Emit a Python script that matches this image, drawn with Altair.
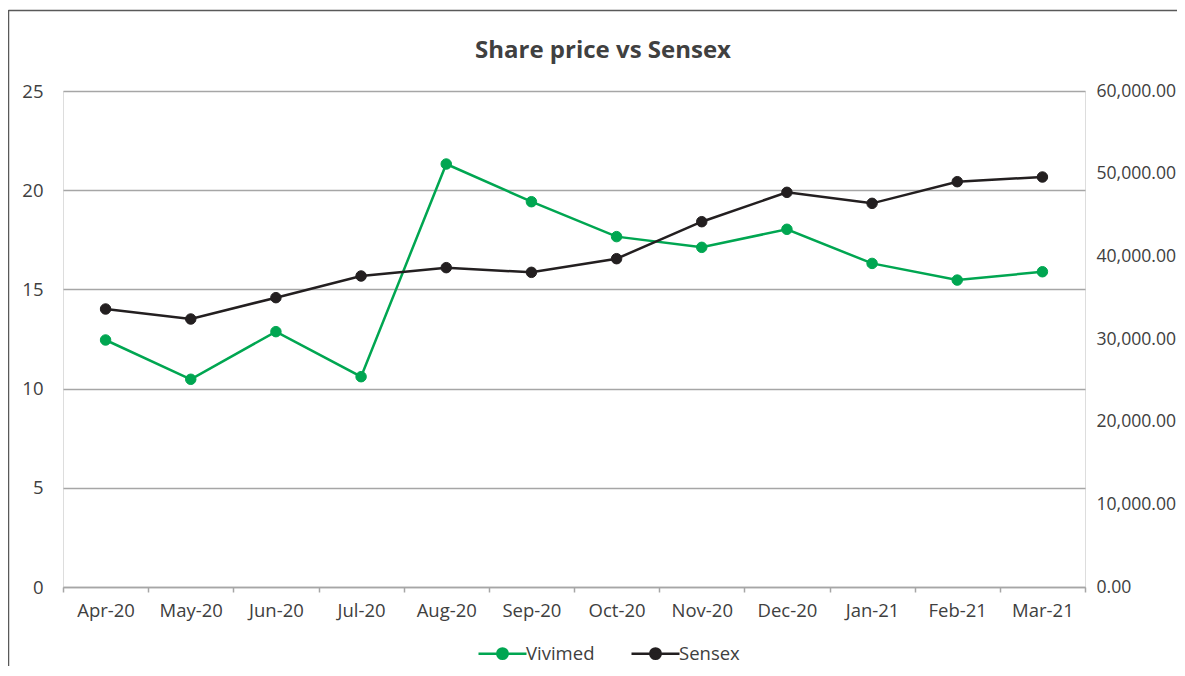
import altair as alt
import pandas as pd

# ---- data ----
months = ["Apr-20", "May-20", "Jun-20", "Jul-20", "Aug-20", "Sep-20",
          "Oct-20", "Nov-20", "Dec-20", "Jan-21", "Feb-21", "Mar-21"]
vivimed = [12.45, 10.47, 12.87, 10.60, 21.32, 19.42, 17.66, 17.12, 18.03, 16.31, 15.47, 15.89]
sensex = [33628, 32418, 35000, 37620, 38630, 38065, 39715, 44190, 47742, 46410, 49030, 49595]
series_names = ["Vivimed", "Sensex"]
series_colors = ["#00A651", "#231F20"]
left_ticks = [0, 5, 10, 15, 20, 25]
right_ticks = [0, 10000, 20000, 30000, 40000, 50000, 60000]
title_text = "Share price vs Sensex"

df = pd.DataFrame({
    "month": months * 2,
    "series": [series_names[0]] * len(months) + [series_names[1]] * len(months),
    "value": vivimed + sensex,
})

FONT = "Open Sans"
TEXT = "#404040"
GRID = "#A6A6A6"
FS = 18.5

# legend glyph: a 48px line with a dot in its middle (unit = 10px at symbolSize 400)
legend_path = "M-1,0L3.8,0M0.88,0A0.52,0.52,0,1,0,1.92,0A0.52,0.52,0,1,0,0.88,0Z"

x_enc = alt.X(
    "month:N", sort=months,
    scale=alt.Scale(type="band", paddingInner=0, paddingOuter=0),
    axis=alt.Axis(title=None, labelAngle=0, tickBand="extent", ticks=True, tickSize=5,
                  tickColor=GRID, tickWidth=1.5, domainColor=GRID, domainWidth=1.5,
                  labelPadding=9, labelFontSize=FS, labelColor=TEXT, labelFont=FONT, grid=False),
)

y_left = alt.Y(
    "value:Q", scale=alt.Scale(domain=[0, 25], nice=False),
    axis=alt.Axis(title=None, orient="left", values=left_ticks, grid=True, gridColor=GRID,
                  gridWidth=1.3, ticks=False, domain=False, labelPadding=20,
                  labelFontSize=FS, labelColor=TEXT, labelFont=FONT),
)
y_right = alt.Y(
    "value:Q", scale=alt.Scale(domain=[0, 60000], nice=False),
    axis=alt.Axis(title=None, orient="right", values=right_ticks, format=",.2f", grid=False,
                  ticks=False, domain=False, labelPadding=11, labelAlign="left",
                  labelFontSize=17.6, labelColor=TEXT, labelFont=FONT),
)

color_scale = alt.Scale(domain=series_names, range=series_colors)
legend = alt.Legend(title=None, orient="none", legendX=414, legendY=551, direction="horizontal",
                    symbolType=legend_path, symbolSize=400, symbolStrokeWidth=2.5,
                    labelOffset=26, columnPadding=31, padding=0,
                    labelFontSize=FS, labelColor=TEXT, labelFont=FONT)

base = alt.Chart(df)


def series_layer(name, color, y_enc):
    sub = base.transform_filter(alt.datum.series == name)
    line = sub.mark_line(color=color, strokeWidth=2.5).encode(x=x_enc, y=y_enc)
    pts = sub.mark_point(filled=True, size=110, opacity=1, strokeWidth=1).encode(
        x=x_enc, y=y_enc,
        fill=alt.Fill("series:N", scale=color_scale, legend=legend),
        stroke=alt.Stroke("series:N", scale=color_scale, legend=legend),
    )
    return alt.layer(line, pts)


left = series_layer(series_names[0], series_colors[0], y_left)
right = series_layer(series_names[1], series_colors[1], y_right)

frame_src = alt.Chart(pd.DataFrame({"k": [0]}))
frame_top = frame_src.mark_rule(color="#595959", strokeWidth=1.5).encode(
    x=alt.value(-54.5), x2=alt.value(1140), y=alt.value(-80.5))
frame_left = frame_src.mark_rule(color="#595959", strokeWidth=1.5).encode(
    x=alt.value(-54.5), y=alt.value(-81), y2=alt.value(700))

chart = alt.layer(left, right, frame_top, frame_left).resolve_scale(
    y="independent"
).properties(
    width=1022, height=496,
    title=alt.TitleParams(title_text, font=FONT, fontSize=24, fontWeight="bold", color=TEXT,
                          anchor="middle", dx=29, offset=0, baseline="alphabetic", dy=73),
    autosize=alt.AutoSizeParams(type="none"),
    padding={"left": 55, "top": 83, "right": 92, "bottom": 79},
).configure_view(stroke=None).configure(background="white")

chart.save("out.html", embed_options={"renderer": "svg", "actions": False})
